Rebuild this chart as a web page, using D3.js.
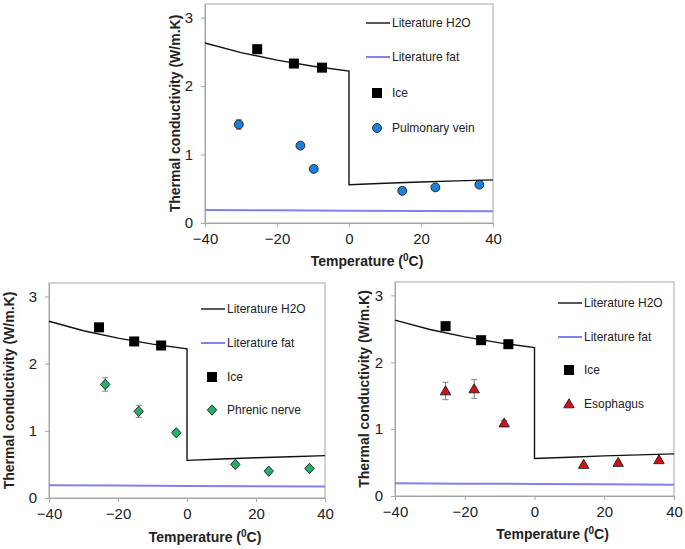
<!DOCTYPE html>
<html lang="en">
  <head>
    <meta charset="UTF-8" />
    <title>Thermal conductivity vs temperature</title>
    <script src="https://d3js.org/d3.v7.min.js"></script>
    <style>
      html,
      body {
        margin: 0;
        padding: 0;
        background: #ffffff;
      }
      svg text {
        font-family: "Liberation Sans", Arial, sans-serif;
      }
    </style>
  </head>
  <body>
    <div id="viz"></div>

    <script>
      // literature curves
      const h2oTemp = [-40, -30, -20, -10, 0, 0, 10, 20, 30, 40];
      const h2oK = [2.63, 2.49, 2.38, 2.29, 2.22, 0.56, 0.58, 0.6, 0.615, 0.63];
      const fatTemp = [-40, -20, 0, 20, 40];
      const fatK = [0.19, 0.185, 0.18, 0.175, 0.17];

      // measured ice
      const iceTemp = [-25.5, -15.3, -7.5];
      const iceK = [2.54, 2.33, 2.27];

      // tissues
      const veinTemp = [-30.6, -13.5, -9.8, 14.8, 24.0, 36.2];
      const veinK = [1.44, 1.13, 0.79, 0.47, 0.52, 0.56];
      const veinErr = [0.07, 0.03, 0.03, 0.02, 0.02, 0.02];

      const nerveTemp = [-23.7, -14.0, -3.1, 14.0, 23.7, 35.5];
      const nerveK = [1.69, 1.29, 0.97, 0.5, 0.4, 0.44];
      const nerveErr = [0.1, 0.09, 0.03, 0.02, 0.02, 0.02];

      const esoTemp = [-25.5, -17.3, -8.7, 14.1, 24.0, 35.7];
      const esoK = [1.57, 1.6, 1.09, 0.47, 0.5, 0.54];
      const esoErr = [0.13, 0.14, 0.04, 0.02, 0.02, 0.02];

      const xTicks = [-40, -20, 0, 20, 40];
      const yTicks = [0, 1, 2, 3];
      const legendNames = ["Literature H2O", "Literature fat", "Ice"];

      const svg = d3
        .select("#viz")
        .append("svg")
        .attr("width", 685)
        .attr("height", 549);

      const zip = (a, b, e) => a.map((t, i) => ({ t: t, k: b[i], e: e ? e[i] : 0 }));

      function markerPath(shape) {
        if (shape === "square") return "M-5,-5H5V5H-5Z";
        if (shape === "circle") return d3.symbol(d3.symbolCircle, 62)();
        if (shape === "diamond") return "M0,-5.2L4.7,0L0,5.2L-4.7,0Z";
        return "M0,-5.2L5.2,3.8H-5.2Z";
      }

      function drawPanel(p) {
        const x = d3.scaleLinear().domain([-40, 40]).range([p.left, p.right]);
        const y = d3.scaleLinear().domain([0, 3.2]).range([p.bottom, p.top]);
        const g = svg.append("g");

        // frame
        g.append("rect")
          .attr("x", p.left)
          .attr("y", p.top)
          .attr("width", p.right - p.left)
          .attr("height", p.bottom - p.top)
          .attr("fill", "none")
          .attr("stroke", "#a6a6a6")
          .attr("stroke-width", 1);

        const yAxis = g
          .append("g")
          .attr("transform", `translate(${p.left},0)`)
          .call(d3.axisLeft(y).tickValues(yTicks).tickFormat(d3.format("d")).tickSize(4).tickPadding(8).tickSizeOuter(0));
        const xAxis = g
          .append("g")
          .attr("transform", `translate(0,${p.bottom})`)
          .call(d3.axisBottom(x).tickValues(xTicks).tickSize(4).tickPadding(6).tickSizeOuter(0));
        [xAxis, yAxis].forEach((a) => {
          a.select(".domain").attr("stroke", "#a6a6a6");
          a.selectAll(".tick line").attr("stroke", "#a6a6a6");
          a.selectAll(".tick text")
            .attr("fill", "#222")
            .style("font-size", "15px")
            .style("font-family", "'Liberation Sans', Arial, sans-serif");
        });

        // axis titles
        const xt = g
          .append("text")
          .attr("x", (p.left + p.right) / 2 + 18)
          .attr("y", p.xTitleY)
          .attr("text-anchor", "middle")
          .attr("font-size", 14)
          .attr("font-weight", "bold")
          .attr("fill", "#222");
        xt.append("tspan").text("Temperature (");
        xt.append("tspan").attr("dy", -5).attr("font-size", 10).text("0");
        xt.append("tspan").attr("dy", 5).text("C)");

        g.append("text")
          .attr("transform", `translate(${p.yTitleX},${(p.top + p.bottom) / 2}) rotate(-90)`)
          .attr("text-anchor", "middle")
          .attr("font-size", 14)
          .attr("font-weight", "bold")
          .attr("fill", "#222")
          .text("Thermal conductivity (W/m.K)");

        // literature lines
        const line = d3
          .line()
          .x((d) => x(d.t))
          .y((d) => y(d.k));
        g.append("path")
          .datum(zip(fatTemp, fatK))
          .attr("d", line)
          .attr("fill", "none")
          .attr("stroke", "#8080f0")
          .attr("stroke-width", 2);
        g.append("path")
          .datum(zip(h2oTemp, h2oK))
          .attr("d", line)
          .attr("fill", "none")
          .attr("stroke", "#111")
          .attr("stroke-width", 1.4);

        // ice
        g.selectAll("path.ice")
          .data(zip(iceTemp, iceK))
          .join("path")
          .attr("class", "ice")
          .attr("d", markerPath("square"))
          .attr("transform", (d) => `translate(${x(d.t)},${y(d.k)})`)
          .attr("fill", "#000");

        // tissue error bars + markers
        const tissue = zip(p.temp, p.k, p.err);
        const eb = g.selectAll("g.err").data(tissue).join("g").attr("class", "err").attr("stroke", "#808080");
        eb.append("line")
          .attr("x1", (d) => x(d.t))
          .attr("x2", (d) => x(d.t))
          .attr("y1", (d) => y(d.k - d.e))
          .attr("y2", (d) => y(d.k + d.e));
        eb.append("line")
          .attr("x1", (d) => x(d.t) - 3)
          .attr("x2", (d) => x(d.t) + 3)
          .attr("y1", (d) => y(d.k + d.e))
          .attr("y2", (d) => y(d.k + d.e));
        eb.append("line")
          .attr("x1", (d) => x(d.t) - 3)
          .attr("x2", (d) => x(d.t) + 3)
          .attr("y1", (d) => y(d.k - d.e))
          .attr("y2", (d) => y(d.k - d.e));

        g.selectAll("path.tissue")
          .data(tissue)
          .join("path")
          .attr("class", "tissue")
          .attr("d", markerPath(p.shape))
          .attr("transform", (d) => `translate(${x(d.t)},${y(d.k)})`)
          .attr("fill", p.color)
          .attr("stroke", "#1a1a2a")
          .attr("stroke-width", 0.9);

        // legend
        const names = legendNames.concat([p.name]);
        names.forEach((n, i) => {
          const ly = p.legRows[i];
          if (i === 0 || i === 1) {
            g.append("line")
              .attr("x1", p.legX)
              .attr("x2", p.legX + 24)
              .attr("y1", ly)
              .attr("y2", ly)
              .attr("stroke", i === 0 ? "#111" : "#8080f0")
              .attr("stroke-width", i === 0 ? 1.4 : 2);
          } else {
            g.append("path")
              .attr("d", markerPath(i === 2 ? "square" : p.shape))
              .attr("transform", `translate(${p.legX + 11},${ly})`)
              .attr("fill", i === 2 ? "#000" : p.color)
              .attr("stroke", i === 2 ? "none" : "#1a1a2a")
              .attr("stroke-width", 0.9);
          }
          g.append("text")
            .attr("x", p.legX + 26)
            .attr("y", ly)
            .attr("dy", "0.35em")
            .attr("font-size", 12)
            .attr("fill", "#222")
            .text(n);
        });
      }

      drawPanel({
        left: 205, right: 493, top: 4, bottom: 223,
        xTitleY: 266, yTitleX: 180,
        legX: 366, legRows: [23, 57, 93, 128],
        name: "Pulmonary vein", shape: "circle", color: "#1a80d8",
        temp: veinTemp, k: veinK, err: veinErr
      });
      drawPanel({
        left: 49, right: 325, top: 283, bottom: 498,
        xTitleY: 542, yTitleX: 14,
        legX: 201, legRows: [309, 343, 377, 410],
        name: "Phrenic nerve", shape: "diamond", color: "#22b362",
        temp: nerveTemp, k: nerveK, err: nerveErr
      });
      drawPanel({
        left: 395, right: 674, top: 282, bottom: 496,
        xTitleY: 539, yTitleX: 369,
        legX: 558, legRows: [303, 337, 370, 404],
        name: "Esophagus", shape: "triangle", color: "#d81010",
        temp: esoTemp, k: esoK, err: esoErr
      });
    </script>
  </body>
</html>
